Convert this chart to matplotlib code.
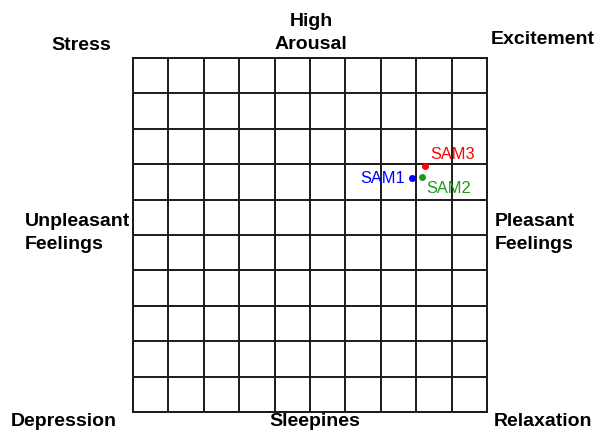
import matplotlib
matplotlib.use("Agg")
import matplotlib.pyplot as plt

plt.rcParams['font.family'] = ['Liberation Sans', 'DejaVu Sans']

# data
names = ["SAM1", "SAM2", "SAM3"]
valence = [0.575, 0.632, 0.650]
arousal = [0.322, 0.327, 0.392]
colors = ["#0000ff", "#1a9a1a", "#ff0000"]
corner_labels = ["Stress", "High\nArousal", "Excitement",
                 "Unpleasant\nFeelings", "Pleasant\nFeelings",
                 "Depression", "Sleepines", "Relaxation"]

W, H = 598, 432
fig = plt.figure(figsize=(W / 100, H / 100), dpi=100)
ax = fig.add_axes([133 / W, 20 / H, 354 / W, 354 / H])
ax.set_xlim(-1, 1)
ax.set_ylim(-1, 1)
ticks = [-1 + 0.2 * i for i in range(11)]
ax.set_xticks(ticks)
ax.set_yticks(ticks)
ax.grid(True, color="#1a1a1a", lw=1.4)
ax.tick_params(length=0, labelbottom=False, labelleft=False)
for s in ax.spines.values():
    s.set_color("#1a1a1a")
    s.set_linewidth(1.4)
ax.set_axisbelow(True)

for n, x, y, c in zip(names, valence, arousal, colors):
    ax.plot(x, y, 'o', color=c, ms=4, zorder=5)

# point labels
ax.annotate(names[0], (valence[0], arousal[0]), xytext=(-5, 0), textcoords="offset points",
            ha="right", va="center", color=colors[0], fontsize=11.8)
ax.annotate(names[1], (valence[1], arousal[1]), xytext=(3, -8), textcoords="offset points",
            ha="left", va="center", color=colors[1], fontsize=11.8)
ax.annotate(names[2], (valence[2], arousal[2]), xytext=(4, 8), textcoords="offset points",
            ha="left", va="center", color=colors[2], fontsize=11.8)

def ftext(px, py, s, ha="center"):
    fig.text(px / W, 1 - py / H, s, ha=ha, va="center", fontsize=14,
             fontweight="bold", linespacing=1.4)

ftext(81, 45, corner_labels[0])
ftext(311, 33, corner_labels[1])
ftext(543, 40, corner_labels[2])
ftext(25, 233, corner_labels[3], ha="left")
ftext(495, 233, corner_labels[4], ha="left")
ftext(64, 422, corner_labels[5])
ftext(315, 422, corner_labels[6])
ftext(543, 422, corner_labels[7])

fig.savefig("out.png", dpi=100)
